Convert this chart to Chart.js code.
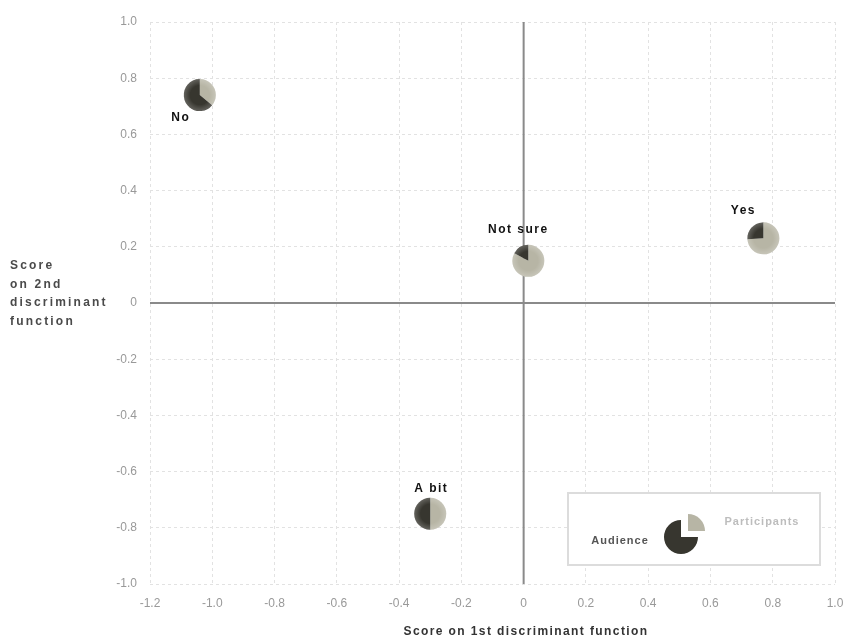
<!DOCTYPE html>
<html>
<head>
<meta charset="utf-8">
<script src="https://cdn.jsdelivr.net/npm/chart.js@4.4.0/dist/chart.umd.min.js"></script>
<style>
  html, body { margin: 0; padding: 0; background: #fff; }
  #wrap { width: 851px; height: 639px; }
</style>
</head>
<body>
<div id="wrap"><canvas id="dfChart" width="851" height="639"></canvas></div>
<script>
// answer groups and their discriminant scores
const categories = ["No", "Not sure", "Yes", "A bit"];
const xScores = [-1.04, 0.015, 0.77, -0.30];
const yScores = [0.74, 0.15, 0.23, -0.75];
// share of each group in the pie
const participantShare = [0.36, 0.83, 0.74, 0.5];
const audienceShare = [0.64, 0.17, 0.26, 0.5];
// axis ticks
const xTicks = [-1.2, -1.0, -0.8, -0.6, -0.4, -0.2, 0, 0.2, 0.4, 0.6, 0.8, 1.0];
const yTicks = [-1.0, -0.8, -0.6, -0.4, -0.2, 0, 0.2, 0.4, 0.6, 0.8, 1.0];
const seriesNames = ["Audience", "Participants"];

// label offset from pie centre (px)
const labelOffsets = [[-19, 23], [-10, -31], [-20, -28], [1, -25]];

const DARK = "#37362f";
const LIGHT = "#b7b5a5";
const PIE_R = 16;

function fmt(v) {
  if (Math.abs(v) < 1e-9) return "0";
  return v.toFixed(1);
}

function drawPie(ctx, cx, cy, r, light, dark) {
  let start = -Math.PI / 2;
  const parts = [[light, LIGHT], [dark, DARK]];
  parts.forEach(p => {
    const end = start + p[0] * Math.PI * 2;
    ctx.beginPath();
    ctx.moveTo(cx, cy);
    ctx.arc(cx, cy, r, start, end);
    ctx.closePath();
    ctx.fillStyle = p[1];
    ctx.fill();
    start = end;
  });
  // soft rim like the original
  const g = ctx.createRadialGradient(cx, cy, r * 0.6, cx, cy, r);
  g.addColorStop(0, "rgba(255,255,255,0)");
  g.addColorStop(1, "rgba(255,255,255,0.22)");
  ctx.beginPath();
  ctx.arc(cx, cy, r, 0, Math.PI * 2);
  ctx.fillStyle = g;
  ctx.fill();
}

const extras = {
  id: "extras",
  beforeDatasetsDraw(chart) {
    const ctx = chart.ctx;
    const xs = chart.scales.x, ys = chart.scales.y;
    const x0 = xs.getPixelForValue(0), y0 = ys.getPixelForValue(0);
    ctx.save();
    ctx.strokeStyle = "#8a8a8a";
    ctx.lineWidth = 2;
    ctx.beginPath();
    ctx.moveTo(x0, ys.top);
    ctx.lineTo(x0, ys.bottom);
    ctx.moveTo(xs.left, y0);
    ctx.lineTo(xs.right, y0);
    ctx.stroke();
    ctx.restore();
  },
  afterDatasetsDraw(chart) {
    const ctx = chart.ctx;
    const xs = chart.scales.x, ys = chart.scales.y;
    ctx.save();
    categories.forEach((c, i) => {
      const px = xs.getPixelForValue(xScores[i]);
      const py = ys.getPixelForValue(yScores[i]);
      drawPie(ctx, px, py, PIE_R, participantShare[i], audienceShare[i]);
      ctx.font = "bold 12px 'Liberation Sans', Arial, sans-serif";
      ctx.letterSpacing = "1.5px";
      ctx.fillStyle = "#111";
      ctx.textAlign = "center";
      ctx.textBaseline = "middle";
      ctx.fillText(c, px + labelOffsets[i][0], py + labelOffsets[i][1]);
    });

    // legend box
    ctx.strokeStyle = "#dcdcdc";
    ctx.lineWidth = 2;
    ctx.fillStyle = "#fff";
    ctx.fillRect(568, 493, 252, 72);
    ctx.strokeRect(568, 493, 252, 72);
    // exploded legend pie
    ctx.beginPath();
    ctx.moveTo(681, 537);
    ctx.arc(681, 537, 17, 0, Math.PI * 1.5);
    ctx.closePath();
    ctx.fillStyle = DARK;
    ctx.fill();
    ctx.beginPath();
    ctx.moveTo(688, 531);
    ctx.arc(688, 531, 17, -Math.PI / 2, 0);
    ctx.closePath();
    ctx.fillStyle = LIGHT;
    ctx.fill();
    ctx.font = "bold 11px 'Liberation Sans', Arial, sans-serif";
    ctx.letterSpacing = "1px";
    ctx.textAlign = "center";
    ctx.textBaseline = "middle";
    ctx.fillStyle = "#555";
    ctx.fillText(seriesNames[0], 620, 541);
    ctx.fillStyle = "#bdbdbd";
    ctx.fillText(seriesNames[1], 762, 522);

    // axis titles
    ctx.fillStyle = "#333";
    ctx.font = "bold 12px 'Liberation Sans', Arial, sans-serif";
    ctx.letterSpacing = "1.4px";
    ctx.fillText("Score on 1st discriminant function", 526, 632);
    ctx.textAlign = "left";
    ctx.fillStyle = "#4a4a4a";
    ctx.letterSpacing = "2.2px";
    ["Score", "on 2nd", "discriminant", "function"].forEach((t, k) => {
      ctx.fillText(t, 10, 266 + k * 18.5);
    });
    ctx.restore();
  }
};

const tickFont = { family: "'Liberation Sans', Arial, sans-serif", size: 12 };

new Chart(document.getElementById("dfChart"), {
  type: "scatter",
  data: {
    datasets: [{
      label: "groups",
      data: categories.map((c, i) => ({ x: xScores[i], y: yScores[i] })),
      pointRadius: 0,
      pointHoverRadius: 0
    }]
  },
  options: {
    responsive: false,
    animation: false,
    events: [],
    layout: { padding: { top: 22, right: 16, left: 0, bottom: 0 } },
    plugins: { legend: { display: false }, tooltip: { enabled: false } },
    scales: {
      x: {
        min: -1.2, max: 1.0,
        afterBuildTicks(s) { s.ticks = xTicks.map(v => ({ value: v })); },
        afterFit(s) { s.height = 55; s.paddingLeft = 0; s.paddingRight = 0; },
        grid: { color: "#e2e2e2", lineWidth: 1, drawTicks: false },
        border: { display: false, dash: [3, 3] },
        ticks: { color: "#999", font: tickFont, padding: 12, maxRotation: 0, autoSkip: false, callback: v => fmt(v) }
      },
      y: {
        min: -1.0, max: 1.0,
        afterBuildTicks(s) { s.ticks = yTicks.map(v => ({ value: v })); },
        afterFit(s) { s.width = 150; s.paddingTop = 0; s.paddingBottom = 0; },
        grid: { color: "#e2e2e2", lineWidth: 1, drawTicks: false },
        border: { display: false, dash: [3, 3] },
        ticks: { color: "#999", font: tickFont, padding: 13, autoSkip: false, callback: v => fmt(v) }
      }
    }
  },
  plugins: [extras]
});
</script>
</body>
</html>
